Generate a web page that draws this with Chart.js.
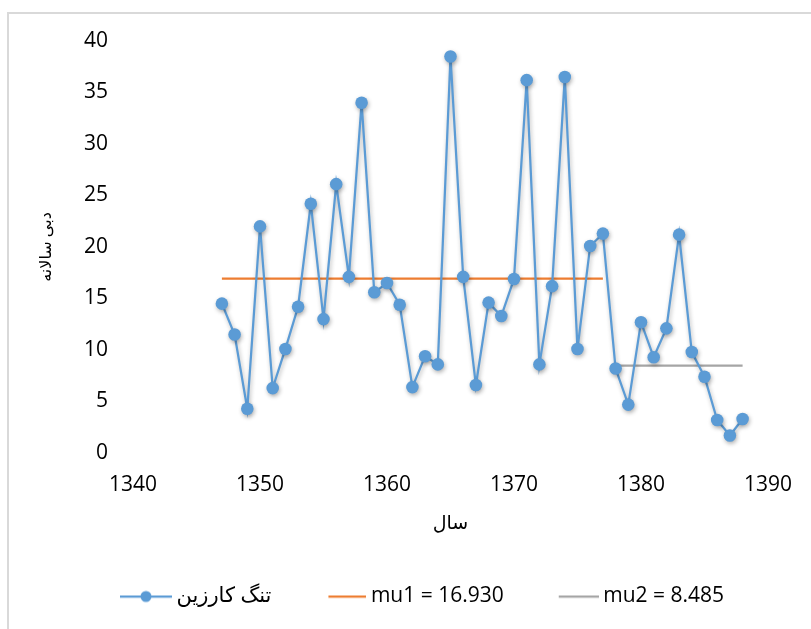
<!DOCTYPE html>
<html>
<head>
<meta charset="utf-8">
<script src="https://cdn.jsdelivr.net/npm/chart.js@4/dist/chart.umd.min.js"></script>
<style>
  html, body { margin: 0; padding: 0; background: #fff; overflow: hidden; }
  #wrap { position: relative; width: 811px; height: 629px; }
  #frame { position: absolute; left: 7px; top: 12px; width: 900px; height: 700px; border: 2px solid #d9d9d9; box-sizing: border-box; }
  #chart { position: absolute; left: 0; top: 0; }
</style>
</head>
<body>
<div id="wrap">
  <div id="frame"></div>
  <canvas id="chart" width="811" height="629"></canvas>
</div>
<script>
// annual discharge, Tang-e Karzin station
const years = [1347, 1348, 1349, 1350, 1351, 1352, 1353, 1354, 1355, 1356, 1357, 1358, 1359, 1360,
  1361, 1362, 1363, 1364, 1365, 1366, 1367, 1368, 1369, 1370, 1371, 1372, 1373, 1374,
  1375, 1376, 1377, 1378, 1379, 1380, 1381, 1382, 1383, 1384, 1385, 1386, 1387, 1388];
const discharge = [14.5, 11.5, 4.3, 22.0, 6.3, 10.1, 14.2, 24.2, 13.0, 26.1, 17.1, 34.0, 15.6, 16.5,
  14.4, 6.4, 9.4, 8.6, 38.5, 17.1, 6.6, 14.6, 13.3, 16.9, 36.2, 8.6, 16.2, 36.5,
  10.1, 20.1, 21.3, 8.2, 4.7, 12.7, 9.3, 12.1, 21.2, 9.8, 7.4, 3.2, 1.7, 3.3];

const mu1Years = [1347, 1377];
const mu1Value = 16.930;
const mu2Years = [1378, 1388];
const mu2Value = 8.485;

const xTicks = [1340, 1350, 1360, 1370, 1380, 1390];
const yTicks = [0, 5, 10, 15, 20, 25, 30, 35, 40];

const seriesLabel = 'تنگ کارزین';
const mu1Label = 'mu1 = 16.930';
const mu2Label = 'mu2 = 8.485';
const xTitle = 'سال';
const yTitle = 'دبی سالانه';

const blue = '#5B9BD5';
const orange = '#ED7D31';
const gray = '#A5A5A5';
const fontFamily = '"Open Sans", "DejaVu Sans", sans-serif';

// legend markers: the picture is wider than the legend box so the
// line ends just before the label text, like the original
function legendMarker(color, width, dot) {
  const c = document.createElement('canvas');
  c.width = 64;
  c.height = 14;
  const g = c.getContext('2d');
  g.strokeStyle = color;
  g.lineWidth = 2.25;
  g.beginPath();
  g.moveTo(64 - width, 7);
  g.lineTo(64, 7);
  g.stroke();
  if (dot) {
    g.fillStyle = color;
    g.beginPath();
    g.arc(64 - width / 2, 7, 5.5, 0, Math.PI * 2);
    g.fill();
  }
  return c;
}
const markers = [legendMarker(blue, 52, true), legendMarker(orange, 38, false), legendMarker(gray, 40, false)];

const pointShadow = {
  id: 'pointShadow',
  beforeDatasetDraw(chart, args) {
    if (args.index !== 0) return;
    const ctx = chart.ctx;
    ctx.save();
    ctx.shadowColor = 'rgba(0,0,0,0.3)';
    ctx.shadowBlur = 4;
    ctx.shadowOffsetX = 1;
    ctx.shadowOffsetY = 2;
  },
  afterDatasetDraw(chart, args) {
    if (args.index !== 0) return;
    chart.ctx.restore();
  }
};

new Chart(document.getElementById('chart'), {
  type: 'line',
  data: {
    datasets: [
      {
        label: seriesLabel,
        data: years.map((y, i) => ({ x: y, y: discharge[i] })),
        borderColor: blue,
        backgroundColor: blue,
        borderWidth: 2.25,
        pointRadius: 6.3,
        pointBorderWidth: 0,
        pointBackgroundColor: blue,
        tension: 0
      },
      {
        label: mu1Label,
        data: mu1Years.map(y => ({ x: y, y: mu1Value })),
        borderColor: orange,
        backgroundColor: orange,
        borderWidth: 2.25,
        pointRadius: 0
      },
      {
        label: mu2Label,
        data: mu2Years.map(y => ({ x: y, y: mu2Value })),
        borderColor: gray,
        backgroundColor: gray,
        borderWidth: 2.25,
        pointRadius: 0
      }
    ]
  },
  options: {
    responsive: false,
    animation: false,
    layout: { padding: { top: 41, left: 27, right: 0, bottom: 12 } },
    scales: {
      x: {
        type: 'linear',
        min: xTicks[0],
        max: xTicks[xTicks.length - 1],
        afterBuildTicks: s => { s.ticks = xTicks.map(v => ({ value: v })); },
        afterFit: s => { s.height = 96; },
        grid: { display: false, drawTicks: false },
        border: { display: false },
        ticks: { padding: 19, color: '#000', font: { family: fontFamily, size: 21 }, callback: v => String(v) },
        title: { display: true, text: xTitle, color: '#000', padding: { top: 0, bottom: 14 }, font: { family: fontFamily, size: 19 } }
      },
      y: {
        min: yTicks[0],
        max: yTicks[yTicks.length - 1],
        afterBuildTicks: s => { s.ticks = yTicks.map(v => ({ value: v })); },
        afterFit: s => { s.width = 106; },
        grid: { display: false, drawTicks: false },
        border: { display: false },
        ticks: { padding: 25, color: '#000', font: { family: fontFamily, size: 21 } },
        title: { display: true, text: yTitle, color: '#000', padding: { top: 10, bottom: 0 }, font: { family: fontFamily, size: 16 } }
      },
      // empty right-hand spacer so the plot ends at the same place as the original
      spacer: {
        position: 'right',
        afterFit: s => { s.width = 41; },
        grid: { display: false, drawTicks: false },
        border: { display: false },
        ticks: { display: false }
      }
    },
    plugins: {
      tooltip: { enabled: false },
      legend: {
        position: 'bottom',
        labels: {
          usePointStyle: true,
          pointStyleWidth: 52,
          padding: 37,
          color: '#000',
          font: { family: fontFamily, size: 21 },
          generateLabels: chart => Chart.defaults.plugins.legend.labels.generateLabels(chart)
            .map((item, i) => Object.assign(item, { pointStyle: markers[i] }))
        }
      }
    }
  },
  plugins: [pointShadow]
});
</script>
</body>
</html>
